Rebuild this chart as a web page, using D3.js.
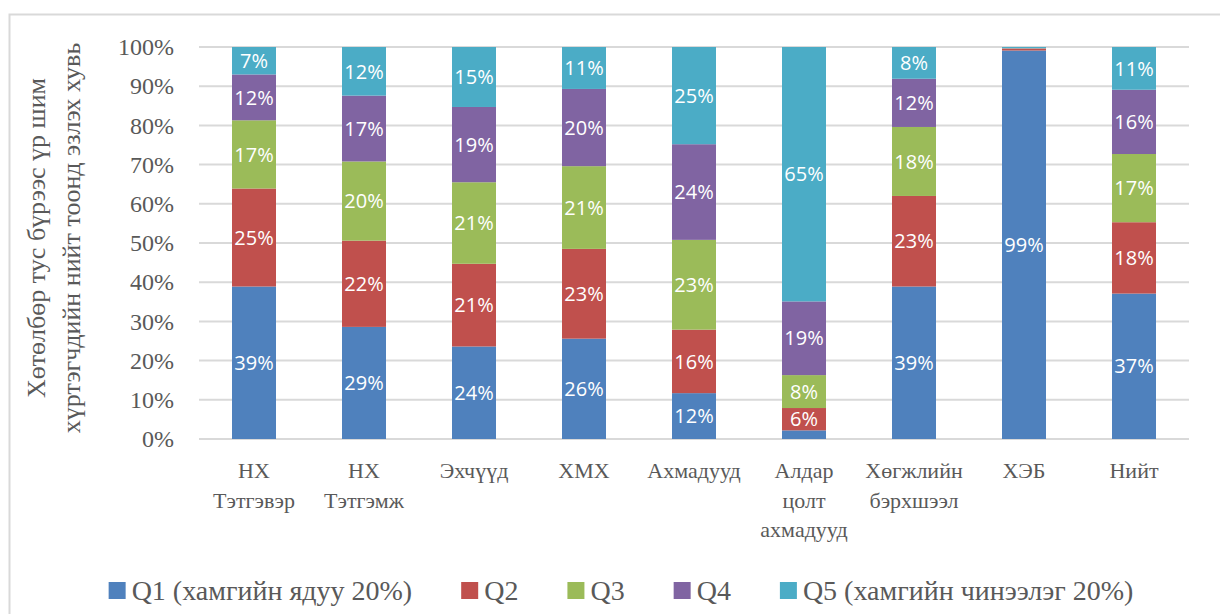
<!DOCTYPE html>
<html>
<head>
<meta charset="utf-8">
<script src="https://cdn.jsdelivr.net/npm/d3@7"></script>
<style>
  body { margin: 0; background: #fff; }
  svg { display: block; }
  .serif { font-family: 'Liberation Serif', 'Times New Roman', 'DejaVu Serif', serif; }
  .sans { font-family: 'Open Sans', 'Noto Sans', sans-serif; }
</style>
</head>
<body>
<svg width="1220" height="614"></svg>
<script>
// categories (x axis), words on separate lines are split at spaces
var categories = ['НХ Тэтгэвэр', 'НХ Тэтгэмж', 'Эхчүүд', 'ХМХ', 'Ахмадууд',
                  'Алдар цолт ахмадууд', 'Хөгжлийн бэрхшээл', 'ХЭБ', 'Нийт'];

var seriesNames = ['Q1 (хамгийн ядуу 20%)', 'Q2', 'Q3', 'Q4', 'Q5 (хамгийн чинээлэг 20%)'];
var seriesColors = ['#4F81BD', '#C0504D', '#9BBB59', '#8064A2', '#4BACC6'];

// share of each quintile, percent
var q1 = [38.9, 28.6, 23.6, 25.6, 11.7,  2.2, 38.9, 99.1, 37.1];
var q2 = [25.0, 22.0, 21.1, 22.9, 16.2,  5.7, 23.1,  0.5, 18.2];
var q3 = [17.4, 20.2, 20.8, 21.1, 22.9,  8.4, 17.6, 0.05, 17.4];
var q4 = [11.7, 16.8, 19.2, 19.7, 24.4, 18.8, 12.3, 0.05, 16.4];
var q5 = [ 7.0, 12.4, 15.3, 10.7, 24.8, 64.9,  8.1,  0.3, 10.9];

var yTicks = [0, 10, 20, 30, 40, 50, 60, 70, 80, 90, 100];

var yTitle = ['Хөтөлбөр тус бүрээс үр шим', 'хүртэгчдийн нийт тоонд эзлэх хувь'];

var textColor = '#595959';

var svg = d3.select('svg');

// border of the chart area
svg.append('rect')
    .attr('x', 9.5).attr('y', 14.5)
    .attr('width', 1240).attr('height', 640)
    .attr('fill', 'none')
    .attr('stroke', '#d9d9d9')
    .attr('stroke-width', 2);

var x = d3.scaleBand()
    .domain(categories)
    .range([199, 1189])
    .paddingInner(0.6)
    .paddingOuter(0.3);

var y = d3.scaleLinear()
    .domain([0, 100])
    .range([439, 47]);

// gridlines
svg.append('g').selectAll('line')
    .data(yTicks)
  .enter().append('line')
    .attr('x1', 199).attr('x2', 1189)
    .attr('y1', function(d){ return y(d); })
    .attr('y2', function(d){ return y(d); })
    .attr('stroke', '#d9d9d9')
    .attr('stroke-width', 2);

// y axis labels
var yAxis = svg.append('g')
    .attr('transform', 'translate(199,0)')
    .call(d3.axisLeft(y).tickValues(yTicks).tickSize(0).tickPadding(25)
      .tickFormat(function(d){ return d + '%'; }));
yAxis.select('.domain').remove();
yAxis.attr('font-family', null).attr('font-size', null);
yAxis.selectAll('text')
    .attr('class', 'serif')
    .style('font-size', '24px')
    .attr('fill', textColor);

// stacked bars
var rows = categories.map(function(c, i){
  return {cat: c, s0: q1[i], s1: q2[i], s2: q3[i], s3: q4[i], s4: q5[i]};
});
var keys = ['s0', 's1', 's2', 's3', 's4'];
var stacked = d3.stack().keys(keys)(rows);

var layers = svg.append('g').selectAll('g')
    .data(stacked)
  .enter().append('g')
    .attr('fill', function(d, i){ return seriesColors[i]; });

layers.selectAll('rect')
    .data(function(d){ return d; })
  .enter().append('rect')
    .attr('x', function(d){ return x(d.data.cat); })
    .attr('width', x.bandwidth())
    .attr('y', function(d){ return y(d[1]); })
    .attr('height', function(d){ return y(d[0]) - y(d[1]); });

// data labels
layers.selectAll('text')
    .data(function(d){ return d.filter(function(p){ return p[1] - p[0] >= 3; }); })
  .enter().append('text')
    .attr('class', 'sans')
    .attr('x', function(d){ return x(d.data.cat) + x.bandwidth()/2; })
    .attr('y', function(d){ return y((d[0] + d[1]) / 2); })
    .attr('dy', '0.36em')
    .attr('text-anchor', 'middle')
    .style('font-size', '20px')
    .attr('fill', '#fff')
    .text(function(d){ return Math.round(d[1] - d[0]) + '%'; });

// category labels
var xLabels = svg.append('g').selectAll('text')
    .data(categories)
  .enter().append('text')
    .attr('class', 'serif')
    .attr('x', function(d){ return x(d) + x.bandwidth()/2; })
    .attr('y', 478)
    .attr('text-anchor', 'middle')
    .style('font-size', '22px')
    .attr('fill', textColor);
xLabels.selectAll('tspan')
    .data(function(d){ return d.split(' '); })
  .enter().append('tspan')
    .attr('x', function(){ return this.parentNode.getAttribute('x'); })
    .attr('dy', function(d, i){ return i ? 29.5 : 0; })
    .text(function(d){ return d; });

// y axis title
svg.append('g').selectAll('text')
    .data(yTitle)
  .enter().append('text')
    .attr('class', 'serif')
    .attr('transform', function(d, i){ return 'translate(' + (45 + i*35) + ',238) rotate(-90)'; })
    .attr('text-anchor', 'middle')
    .style('font-size', '26px')
    .attr('fill', textColor)
    .text(function(d){ return d; });

// legend
var legend = svg.append('g');
var items = legend.selectAll('g')
    .data(seriesNames)
  .enter().append('g');
items.append('rect')
    .attr('width', 17).attr('height', 17)
    .attr('y', 582)
    .attr('fill', function(d, i){ return seriesColors[i]; });
items.append('text')
    .attr('class', 'serif')
    .attr('x', 23)
    .attr('y', 600)
    .style('font-size', '28px')
    .attr('fill', textColor)
    .text(function(d){ return d; });

var widths = [];
items.each(function(){ widths.push(17 + 6 + d3.select(this).select('text').node().getComputedTextLength()); });
var gap = 49;
var total = d3.sum(widths) + gap * (widths.length - 1);
var cursor = 621 - total / 2;
items.attr('transform', function(d, i){
  var t = 'translate(' + cursor + ',0)';
  cursor += widths[i] + gap;
  return t;
});
</script>
</body>
</html>
